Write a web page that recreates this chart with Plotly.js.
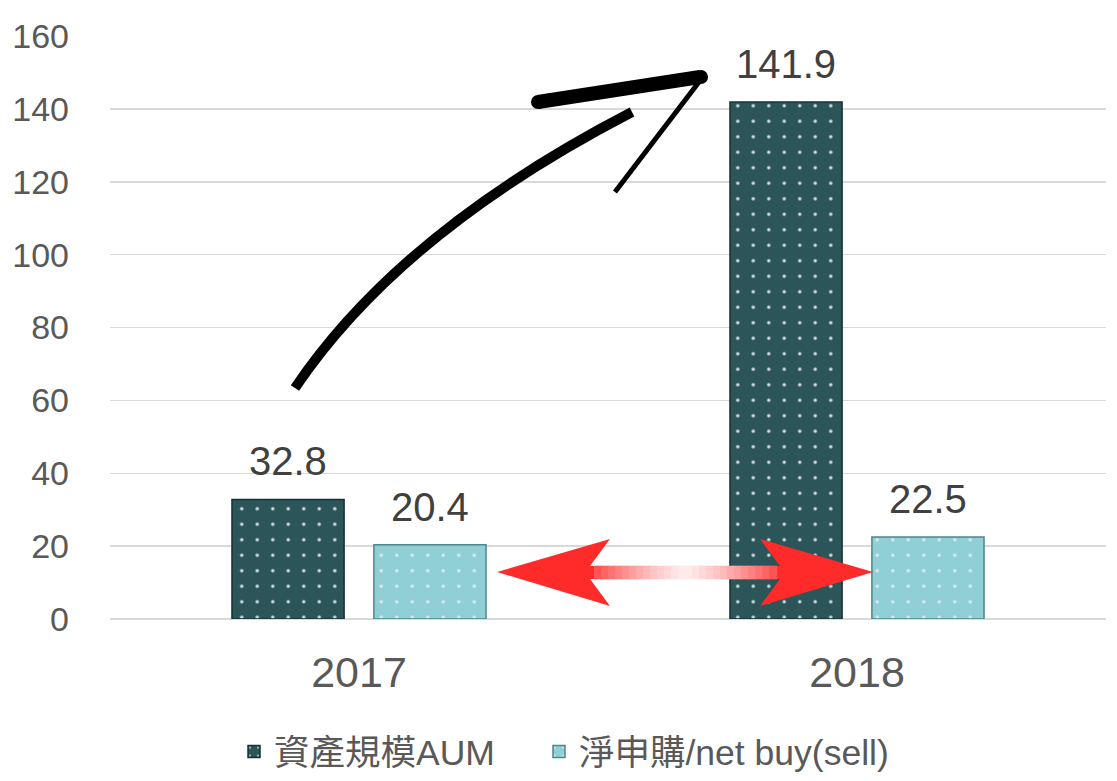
<!DOCTYPE html>
<html>
<head>
<meta charset="utf-8">
<script src="https://cdn.plot.ly/plotly-3.0.1.min.js"></script>
<style>html,body{margin:0;padding:0;background:#fff;}#chart{width:1117px;height:781px;}</style>
</head>
<body>
<div id="chart"></div>
<script>
// ---- data ----
const categories = ['2017', '2018'];
const aumValues = [32.8, 141.9];
const netBuyValues = [20.4, 22.5];
const seriesNames = ['資產規模AUM', '淨申購/net buy(sell)'];
const yTicks = [0, 20, 40, 60, 80, 100, 120, 140, 160];

// ---- layout geometry (pixels) ----
const W = 1117, H = 781;
const M = {l: 110, r: 11, t: 36, b: 162};
const PW = W - M.l - M.r, PH = H - M.t - M.b;
function fx(x) { return (x - M.l) / PW; }
function fy(y) { return (M.t + PH - y) / PH; }
function pt(x, y) { return fx(x).toFixed(4) + ',' + fy(y).toFixed(4); }

const FONT = '"Liberation Sans", Arial, "Noto Sans CJK TC", sans-serif';

function pattern(bg) {
  return {shape: '.', size: 15.5, solidity: 0.04, bgcolor: bg, fgcolor: '#e8f0f0', fgopacity: 0.9};
}
const colors = ['#2b5558', '#8fcfd5'];

const traces = [
  {
    type: 'bar', name: seriesNames[0], x: categories, y: aumValues, legend: 'legend',
    marker: {color: colors[0], line: {color: '#173234', width: 1.5}, pattern: pattern(colors[0])},
    hoverinfo: 'skip'
  },
  {
    type: 'bar', name: seriesNames[1], x: categories, y: netBuyValues, legend: 'legend2',
    marker: {color: colors[1], line: {color: '#4c878b', width: 1.5}, pattern: pattern(colors[1])},
    hoverinfo: 'skip'
  }
];

// value labels (x given as category index)
const annotations = [];
const series = [aumValues, netBuyValues];
const shifts = [-71, 71];
series.forEach((vals, s) => {
  vals.forEach((v, i) => {
    annotations.push({
      x: i, y: v, xref: 'x', yref: 'y', xshift: shifts[s], yshift: 14,
      yanchor: 'bottom', text: v.toFixed(1), showarrow: false,
      font: {family: FONT, size: 40, color: '#404040'}
    });
  });
});

// decorative arrows
const shapes = [];
shapes.push({type: 'path', xref: 'paper', yref: 'paper', layer: 'above',
  path: 'M ' + pt(295, 388) + ' Q ' + pt(400, 232) + ' ' + pt(632, 112),
  line: {color: '#000', width: 10}});
shapes.push({type: 'path', xref: 'paper', yref: 'paper', layer: 'above',
  path: 'M ' + pt(538, 102) + ' L ' + pt(700, 77),
  line: {color: '#000', width: 14}});
shapes.push({type: 'circle', xref: 'paper', yref: 'paper', layer: 'above',
  x0: fx(531), x1: fx(545), y0: fy(109), y1: fy(95), fillcolor: '#000', line: {width: 0}});
shapes.push({type: 'circle', xref: 'paper', yref: 'paper', layer: 'above',
  x0: fx(694), x1: fx(708), y0: fy(84), y1: fy(70), fillcolor: '#000', line: {width: 0}});
shapes.push({type: 'path', xref: 'paper', yref: 'paper', layer: 'above',
  path: 'M ' + pt(702, 78) + ' L ' + pt(615, 192),
  line: {color: '#000', width: 5}});
// red double arrow
shapes.push({type: 'path', xref: 'paper', yref: 'paper', layer: 'above',
  path: 'M ' + pt(497, 572) + ' L ' + pt(610, 539) + ' L ' + pt(590, 566) + ' L ' + pt(780, 566) +
        ' L ' + pt(760, 539) + ' L ' + pt(873, 572) + ' L ' + pt(760, 606) + ' L ' + pt(780, 579) +
        ' L ' + pt(590, 579) + ' L ' + pt(610, 606) + ' Z',
  fillcolor: '#ff2a2a', line: {width: 0}});
(function () {
  const x0 = 594, x1 = 776, n = 26, step = (x1 - x0) / n;
  for (let k = 0; k < n; k++) {
    const c = (k + 0.5) / n;
    const d = Math.abs(c - 0.5) * 2;
    const g = Math.round(236 - Math.pow(d, 1.3) * 160);
    shapes.push({type: 'rect', xref: 'paper', yref: 'paper', layer: 'above',
      x0: fx(x0 + k * step), x1: fx(x0 + (k + 1) * step + 1.2), y0: fy(579.3), y1: fy(565.7),
      fillcolor: 'rgb(255,' + g + ',' + g + ')', line: {width: 0}});
  }
})();

const legendBase = {
  orientation: 'h', xref: 'container', yref: 'container', xanchor: 'left', yanchor: 'middle',
  y: 1 - 752 / H,
  font: {family: FONT, size: 35.5, color: '#595959'},
  bgcolor: 'rgba(0,0,0,0)', borderwidth: 0
};

const layout = {
  width: W, height: H,
  margin: M,
  paper_bgcolor: '#fff', plot_bgcolor: '#fff',
  font: {family: FONT, color: '#595959'},
  barmode: 'group', bargap: 0.43, bargroupgap: 0.21,
  showlegend: true,
  legend: Object.assign({}, legendBase, {x: 234 / W}),
  legend2: Object.assign({}, legendBase, {x: 539 / W}),
  xaxis: {
    type: 'category', range: [-0.5, 1.5], autorange: false, showgrid: false, zeroline: false,
    showline: false, ticks: '', tickfont: {family: FONT, size: 43, color: '#595959'},
    ticklabelstandoff: 24, fixedrange: true
  },
  yaxis: {
    range: [0, 160], autorange: false, tickvals: yTicks, ticktext: yTicks.map(String), showgrid: true,
    gridcolor: '#d9d9d9', gridwidth: 1.5, zeroline: true, zerolinecolor: '#d9d9d9', zerolinewidth: 1.5,
    showline: false, ticks: '', tickfont: {family: FONT, size: 34, color: '#595959'},
    ticklabelstandoff: 40, fixedrange: true
  },
  annotations: annotations,
  shapes: shapes
};

Plotly.newPlot('chart', traces, layout, {staticPlot: true, displayModeBar: false});
</script>
</body>
</html>
